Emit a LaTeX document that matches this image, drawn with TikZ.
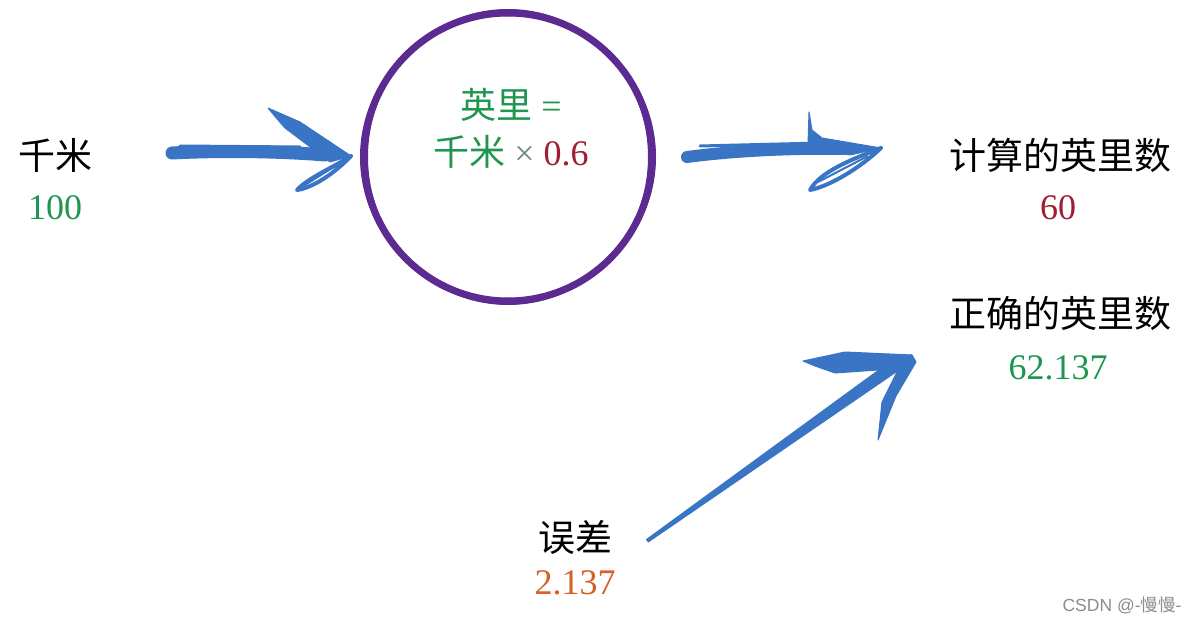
\documentclass[tikz,border=0pt]{standalone}
\usepackage{fontspec}
\setmainfont{Liberation Serif}
\newfontfamily\cjk{Noto Sans CJK SC}
\newfontfamily\wmsans{Liberation Sans}
\usetikzlibrary{calc}
\definecolor{tgreen}{RGB}{30,150,80}
\definecolor{tred}{RGB}{160,30,50}
\definecolor{torange}{RGB}{215,95,40}
\definecolor{tpurple}{RGB}{92,42,145}
\definecolor{tblue}{RGB}{58,116,196}
\definecolor{tgrey}{RGB}{110,140,120}
\definecolor{wmgrey}{RGB}{140,140,140}
\begin{document}
\begin{tikzpicture}[x=1pt,y=-1pt,
  lbl/.style={font=\fontsize{36}{40}\selectfont, inner sep=0pt},
  cjklbl/.style={font=\fontsize{37}{40}\selectfont\cjk, inner sep=0pt},
  barb/.style={fill=tblue, draw=tblue, line width=1pt, line join=round},
  leaf/.style={draw=tblue, line width=4pt, line join=round, line cap=round},
  shaft/.style={draw=tblue, line cap=round}]
\useasboundingbox[fill=white] (0,0) rectangle (1200,623);

% texts
\node[cjklbl] (km) at (55,155) {千米};
\node[lbl, text=tgreen] (kmv) at (55,208) {100};
\node[cjklbl] (calc) at (1060,155) {计算的英里数};
\node[lbl, text=tred] (calcv) at (1058,208) {60};
\node[cjklbl] (true) at (1060,313) {正确的英里数};
\node[lbl, text=tgreen] (truev) at (1058,368) {62.137};
\node[cjklbl] (err) at (575,537) {误差};
\node[lbl, text=torange] (errv) at (575,583) {2.137};
\node[font=\fontsize{17.5}{20}\selectfont\wmsans, text=wmgrey, inner sep=0pt] (wm) at (1122,605) {CSDN @-{\cjk 慢慢}-};

% circle
\node[circle, draw=tpurple, line width=7pt, minimum size=288pt, inner sep=0pt] (conv) at (508,157) {};
\draw[tpurple, line width=2pt] (conv.center) ellipse [x radius=147, y radius=142];
\draw[tpurple, line width=2pt] (conv.center) ellipse [x radius=141, y radius=147];
\node[lbl, text=tgreen] (f1) at (511,105) {{\cjk 英里} =};
\node[lbl] (f2) at (511,152) {\textcolor{tgreen}{\cjk 千米} \textcolor{tgrey}{×} \textcolor{tred}{0.6}};

% arrow 1: km -> conv
\coordinate (a1s) at (172,153);
\coordinate (a1e) at (351,156);
\draw[shaft, line width=13pt] (a1s) .. controls (230,150) and (290,152) .. (325,155);
\draw[shaft, line width=3pt] (180,146) -- (300,147);
\fill[barb] (268,108) -- (300,122) -- (a1e) -- (330,162) -- (285,128) -- (278,120) -- cycle;
\draw[leaf] (a1e) .. controls (332,168) and (308,178) .. (297,190)
  .. controls (312,188) and (334,174) .. (a1e);
\draw[tblue, line width=2pt] (340,163) -- (305,185);

% arrow 2: conv -> calc
\coordinate (a2s) at (687,157);
\coordinate (a2e) at (881,148);
\draw[shaft, line width=12pt] (a2s) .. controls (740,150) and (800,148) .. (850,149);
\draw[shaft, line width=3pt] (700,146) -- (820,143);
\fill[barb] (809,112) -- (812,130) -- (822,138) -- (a2e) -- (850,155) -- (808,144) -- cycle;
\draw[leaf] (a2e) .. controls (850,160) and (820,172) .. (810,190)
  .. controls (830,186) and (860,168) .. (a2e);
\draw[tblue, line width=2pt] (868,156) -- (818,182);

% arrow 3: err -> true
\coordinate (a3s) at (647,541);
\coordinate (a3e) at (912,355);
\fill[tblue] ($(a3s)!2pt!90:(900,362)$) -- ($(900,362)!6.5pt!-90:(a3s)$)
  -- ($(900,362)!6.5pt!90:(a3s)$) -- ($(a3s)!2pt!-90:(900,362)$) -- cycle;
\fill[barb] (803,361) -- (845,352) -- (a3e) -- (906,368) -- (835,373) -- (815,366) -- cycle;
\fill[barb] (904,356) -- (a3e) -- (916,362) -- (896,396) -- (878,440) -- (882,402) -- (896,374) -- cycle;
\end{tikzpicture}
\end{document}
